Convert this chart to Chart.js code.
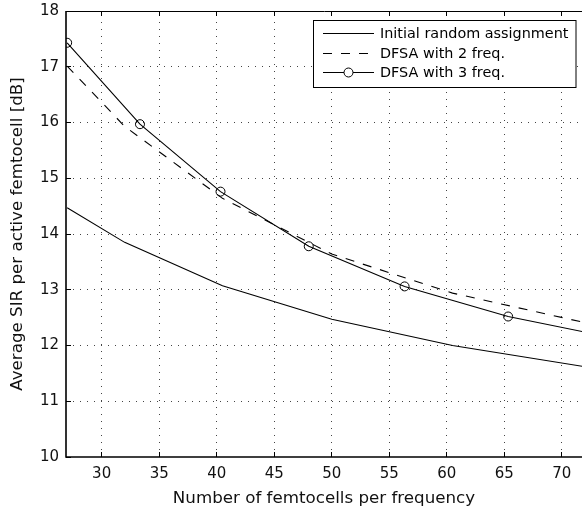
<!DOCTYPE html>
<html>
<head>
<meta charset="utf-8">
<script src="https://cdn.jsdelivr.net/npm/chart.js@4.4.1/dist/chart.umd.min.js"></script>
<style>
html,body{margin:0;padding:0;background:#fff;overflow:hidden;}
#wrap{width:582px;height:515px;position:relative;}
</style>
</head>
<body>
<div id="wrap"><canvas id="c" width="582" height="515"></canvas></div>
<script>
// ---- data ----
const seriesNames = ['Initial random assignment', 'DFSA with 2 freq.', 'DFSA with 3 freq.'];
const xRandom = [27, 32, 40.5, 50, 60.5, 72];
const yRandom = [14.47, 13.85, 13.07, 12.47, 12.0, 11.62];
const xTwo = [27, 32, 40.5, 50, 60.5, 72];
const yTwo = [17.01, 15.93, 14.64, 13.64, 12.94, 12.41];
const xThree = [27, 33.33, 40.33, 48, 56.33, 65.33, 72];
const yThree = [17.43, 15.97, 14.76, 13.78, 13.06, 12.52, 12.24];
const xTicks = [30, 35, 40, 45, 50, 55, 60, 65, 70];
const yTicks = [10, 11, 12, 13, 14, 15, 16, 17, 18];
const xTitle = 'Number of femtocells per frequency';
const yTitle = 'Average SIR per active femtocell [dB]';

const FONT = "'DejaVu Sans', sans-serif";
const toPts = (xs, ys) => xs.map((x, i) => ({x: x, y: ys[i]}));

const framePlugin = {
  id: 'frame',
  beforeDatasetsDraw(chart) {
    const {ctx, chartArea: a, scales: {x, y}} = chart;
    ctx.save();
    ctx.strokeStyle = '#444';
    ctx.lineWidth = 1;
    ctx.setLineDash([1, 6]);
    xTicks.forEach(v => {
      const px = Math.floor(x.getPixelForValue(v)) + 0.5;
      ctx.beginPath(); ctx.moveTo(px, a.bottom); ctx.lineTo(px, a.top); ctx.stroke();
    });
    yTicks.forEach(v => {
      if (v === yTicks[0] || v === yTicks[yTicks.length - 1]) return;
      const py = Math.floor(y.getPixelForValue(v)) + 0.5;
      ctx.beginPath(); ctx.moveTo(a.left, py); ctx.lineTo(a.right, py); ctx.stroke();
    });
    ctx.restore();
  },
  afterDatasetsDraw(chart) {
    const {ctx, chartArea: a, scales: {x, y}} = chart;
    ctx.save();
    ctx.setLineDash([]);
    ctx.strokeStyle = '#000';
    ctx.lineWidth = 1;
    xTicks.forEach(v => {
      const px = Math.floor(x.getPixelForValue(v)) + 0.5;
      ctx.beginPath(); ctx.moveTo(px, a.bottom); ctx.lineTo(px, a.bottom - 5); ctx.stroke();
      ctx.beginPath(); ctx.moveTo(px, a.top); ctx.lineTo(px, a.top + 5); ctx.stroke();
    });
    yTicks.forEach(v => {
      const py = Math.floor(y.getPixelForValue(v)) + 0.5;
      ctx.beginPath(); ctx.moveTo(a.left, py); ctx.lineTo(a.left + 5, py); ctx.stroke();
    });
    ctx.lineWidth = 1;
    ctx.beginPath(); ctx.moveTo(a.left, a.top + 0.5); ctx.lineTo(a.right + 2, a.top + 0.5); ctx.stroke();
    ctx.lineWidth = 1.6;
    ctx.beginPath(); ctx.moveTo(a.left, a.top); ctx.lineTo(a.left, a.bottom); ctx.lineTo(a.right + 2, a.bottom); ctx.stroke();
    ctx.restore();
  },
  afterDraw(chart) {
    const {ctx} = chart;
    const bx = 313.5, by = 20.5, bw = 262.5, bh = 67;
    ctx.save();
    ctx.fillStyle = '#fff';
    ctx.fillRect(bx, by, bw, bh);
    ctx.strokeStyle = '#000';
    ctx.lineWidth = 1;
    ctx.strokeRect(bx, by, bw, bh);
    const rows = [33.5, 53.5, 72.5];
    const x0 = 323, x1 = 374;
    chart.data.datasets.forEach((ds, i) => {
      const yy = rows[i];
      ctx.strokeStyle = '#000';
      ctx.lineWidth = 1;
      ctx.setLineDash(ds.borderDash || []);
      ctx.beginPath(); ctx.moveTo(x0, yy); ctx.lineTo(x1, yy); ctx.stroke();
      ctx.setLineDash([]);
      if (i === 2) {
        ctx.fillStyle = '#fff';
        ctx.beginPath(); ctx.arc((x0 + x1) / 2, yy, 4.5, 0, Math.PI * 2); ctx.fill(); ctx.stroke();
      }
      ctx.fillStyle = '#000';
      ctx.font = '14.4px ' + FONT;
      ctx.textBaseline = 'middle';
      ctx.textAlign = 'left';
      ctx.fillText(ds.label, 380, yy + 0.5);
    });
    ctx.restore();
  }
};

new Chart(document.getElementById('c'), {
  type: 'line',
  data: {
    datasets: [
      {label: seriesNames[0], data: toPts(xRandom, yRandom), borderColor: '#000', borderWidth: 1.1, pointRadius: 0, tension: 0, fill: false},
      {label: seriesNames[1], data: toPts(xTwo, yTwo), borderColor: '#000', borderWidth: 1.1, borderDash: [9, 9], pointRadius: 0, tension: 0, fill: false},
      {label: seriesNames[2], data: toPts(xThree, yThree), borderColor: '#000', borderWidth: 1.1, pointRadius: [4.5, 4.5, 4.5, 4.5, 4.5, 4.5, 0], pointStyle: 'circle', pointBorderColor: '#000', pointBorderWidth: 1, pointBackgroundColor: 'rgba(0,0,0,0)', tension: 0, fill: false}
    ]
  },
  options: {
    responsive: false,
    animation: false,
    events: [],
    layout: {autoPadding: false, padding: {top: 11, right: 0, left: 0, bottom: 0}},
    plugins: {legend: {display: false}, tooltip: {enabled: false}},
    scales: {
      x: {
        type: 'linear', min: 26.9, max: 71.75,
        afterBuildTicks: s => { s.ticks = xTicks.map(v => ({value: v})); },
        afterFit: s => { s.height = 58; s.paddingLeft = 0; s.paddingRight = 0; },
        grid: {display: false, drawTicks: false},
        border: {display: false},
        ticks: {color: '#111', font: {family: FONT, size: 15}, padding: 8, maxRotation: 0, autoSkip: false},
        title: {display: true, text: xTitle, color: '#111', font: {family: FONT, size: 16.7}, padding: {top: 0, bottom: 6}}
      },
      y: {
        type: 'linear', min: 10, max: 18,
        afterBuildTicks: s => { s.ticks = yTicks.map(v => ({value: v})); },
        afterFit: s => { s.width = 66; s.paddingTop = 0; s.paddingBottom = 0; },
        grid: {display: false, drawTicks: false},
        border: {display: false},
        ticks: {color: '#111', font: {family: FONT, size: 15}, padding: 7},
        title: {display: true, text: yTitle, color: '#111', font: {family: FONT, size: 16.7}, padding: {top: 8, bottom: 0}}
      }
    }
  },
  plugins: [framePlugin]
});
</script>
</body>
</html>
